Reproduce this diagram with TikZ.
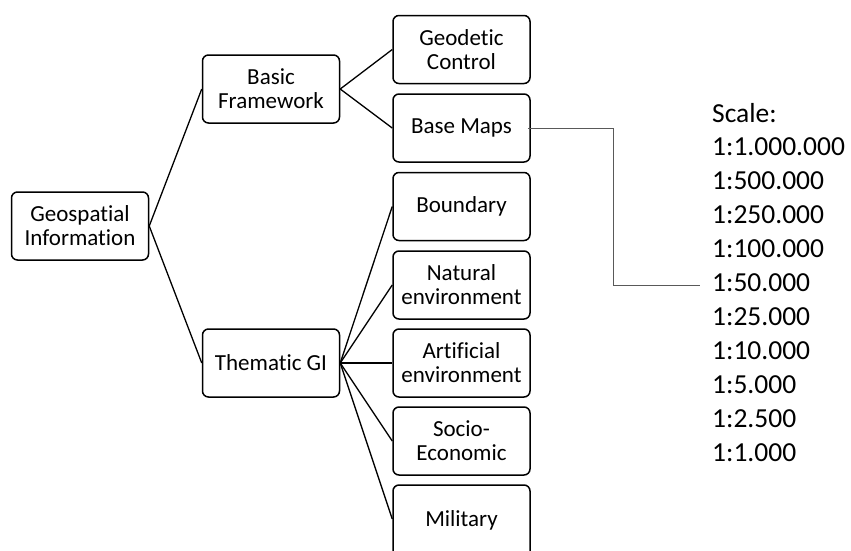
\documentclass[tikz,border=0pt]{standalone}
\usepackage{fontspec}
\setmainfont[Ligatures=NoCommon]{Carlito}
\begin{document}
\begin{tikzpicture}[x=1pt,y=-1pt,
  box/.style={draw, line width=1.5pt, rounded corners=6pt, minimum width=137pt,
    minimum height=68pt, inner sep=0pt, align=center,
    font=\fontsize{23}{24}\selectfont},
  link/.style={line width=1.3pt},
  scaleline/.style={draw=black!65, line width=0.9pt},
  scaletext/.style={anchor=base west, inner sep=0pt, font=\fontsize{27.5}{33}\selectfont}]
\useasboundingbox (0,0) rectangle (851,550);
\clip (0,0) rectangle (851,550);

% tree of boxes
\node[box] (geo)   at (80,226)    {Geospatial\\Information};
\node[box] (basic) at (271,89)    {Basic\\Framework};
\node[box] (them)  at (271,363)   {Thematic GI};
\node[box] (geod)  at (461.5,49.5){Geodetic\\Control};
\node[box] (base)  at (461.5,128) {Base Maps};
\node[box] (bound) at (461.5,206.5){Boundary};
\node[box] (nat)   at (461.5,285) {Natural\\environment};
\node[box] (art)   at (461.5,363) {Artificial\\environment};
\node[box] (soc)   at (461.5,441) {Socio-\\Economic};
% the last box runs past the lower edge of the page
\node[box, minimum height=76pt] (mil) at (461.5,523) {\raisebox{8pt}{Military}};

\draw[link] (geo.east) -- (basic.west);
\draw[link] (geo.east) -- (them.west);
\draw[link] (basic.east) -- (geod.west);
\draw[link] (basic.east) -- (base.west);
\foreach \n in {bound,nat,art,soc}
  \draw[link] (them.east) -- (\n.west);
\draw[link] (them.east) -- ([yshift=4pt]mil.west);

% list of map scales
\foreach \t [count=\i] in {Scale:,1:1.000.000,1:500.000,1:250.000,1:100.000,1:50.000,1:25.000,1:10.000,1:5.000,1:2.500,1:1.000}
  \node[scaletext] (s\i) at (712,{122+33.9*(\i-1)}) {\t};

% elbow from Base Maps to the scale list
\coordinate (scaleend) at (700,285);
\draw[scaleline] ([xshift=-3pt]base.east) -| (613,285) -- (scaleend);
\end{tikzpicture}
\end{document}
